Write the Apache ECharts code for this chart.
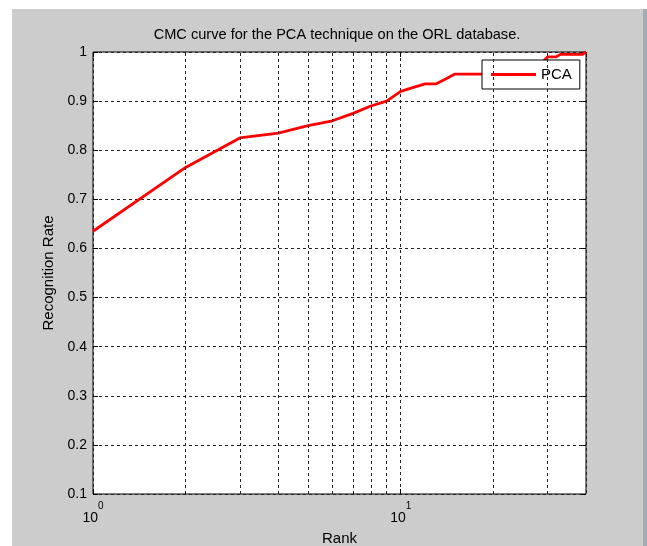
<!DOCTYPE html>
<html>
<head>
<meta charset="utf-8">
<script src="https://cdn.jsdelivr.net/npm/echarts@6/dist/echarts.min.js"></script>
<style>
  body { margin: 0; background: #fff; }
  #frame {
    position: absolute; left: 12px; top: 9px; width: 631px; height: 537px;
    background: #cccccc; border-right: 4px solid #a3abb3;
  }
  #chart { position: absolute; left: 0; top: 0; width: 647px; height: 546px; }
</style>
</head>
<body>
<div id="frame"></div>
<div id="chart"></div>
<script>
// rank 1..40 on a log axis
const ranks = [1, 2, 3, 4, 5, 6, 7, 8, 9, 10,
  11, 12, 13, 14, 15, 16, 17, 18, 19, 20,
  21, 22, 23, 24, 25, 26, 27, 28, 29, 30,
  31, 32, 33, 34, 35, 36, 37, 38, 39, 40];
const pcaRates = [0.635, 0.765, 0.825, 0.835, 0.85, 0.86, 0.875, 0.89, 0.90, 0.92,
  0.928, 0.935, 0.935, 0.945, 0.955, 0.955, 0.955, 0.955, 0.955, 0.96,
  0.96, 0.96, 0.965, 0.965, 0.97, 0.97, 0.975, 0.975, 0.98, 0.99,
  0.99, 0.99, 0.995, 0.995, 0.995, 0.995, 0.995, 0.995, 0.995, 1.0];
// log grid lines between the decades
const minorRanks = [2, 3, 4, 5, 6, 7, 8, 9, 20, 30];
const decadeLabels = { 1: '0', 10: '1' };

const font = "'Liberation Sans', Arial, sans-serif";
const gridLine = { color: '#222', width: 1, type: [3, 3] };

const chart = echarts.init(document.getElementById('chart'));

const option = {
  backgroundColor: 'transparent',
  textStyle: { fontFamily: font },
  title: {
    text: 'CMC curve for the PCA technique on the ORL database.',
    left: 337,
    top: 27,
    padding: 0,
    textAlign: 'center',
    textStyle: { fontFamily: font, fontSize: 14.6, fontWeight: 'normal', color: '#000' }
  },
  legend: {
    data: ['PCA'],
    left: 482,
    top: 60,
    icon: 'rect',
    itemWidth: 45,
    itemHeight: 3,
    padding: [7, 8, 7, 9],
    backgroundColor: '#fff',
    borderColor: '#000',
    borderWidth: 1,
    textStyle: { fontFamily: font, fontSize: 15, color: '#000' }
  },
  grid: {
    left: 93, top: 52, right: 61, bottom: 52,
    outerBoundsMode: 'none',
    show: true, backgroundColor: '#fff', borderColor: '#000', borderWidth: 1
  },
  xAxis: [
    {
      type: 'log', logBase: 10, min: 1, max: 40,
      name: 'Rank', nameLocation: 'middle', nameGap: 37,
      nameTextStyle: { fontFamily: font, fontSize: 15, color: '#000' },
      axisLine: { show: false },
      axisTick: { inside: true, length: 5, lineStyle: { color: '#000' } },
      splitLine: { show: true, lineStyle: gridLine },
      axisLabel: {
        margin: 7,
        showMaxLabel: false,
        formatter: v => decadeLabels[v] !== undefined ? '{b|10}{s|' + decadeLabels[v] + '}' : '',
        rich: {
          b: { fontFamily: font, fontSize: 14, color: '#000', lineHeight: 24, verticalAlign: 'bottom' },
          s: { fontFamily: font, fontSize: 10, color: '#000', lineHeight: 24, verticalAlign: 'top' }
        }
      }
    },
    {
      type: 'log', logBase: 10, min: 1, max: 40, position: 'top',
      axisLine: { show: false },
      axisTick: { inside: true, length: 5, lineStyle: { color: '#000' } },
      axisLabel: { show: false },
      splitLine: { show: false }
    }
  ],
  yAxis: [
    {
      type: 'value', min: 0.1, max: 1, interval: 0.1,
      name: 'Recognition Rate', nameLocation: 'middle', nameGap: 33,
      nameTextStyle: { fontFamily: font, fontSize: 15, color: '#000' },
      axisLine: { show: false },
      axisTick: { inside: true, length: 5, lineStyle: { color: '#000' } },
      splitLine: { show: true, lineStyle: gridLine },
      axisLabel: { margin: 6, fontFamily: font, fontSize: 14, color: '#000' }
    },
    {
      type: 'value', min: 0.1, max: 1, interval: 0.1, position: 'right',
      axisLine: { show: false },
      axisTick: { inside: true, length: 5, lineStyle: { color: '#000' } },
      axisLabel: { show: false },
      splitLine: { show: false }
    }
  ],
  series: [
    {
      name: 'grid',
      type: 'line',
      z: 1,
      data: [],
      silent: true,
      markLine: {
        silent: true,
        symbol: 'none',
        label: { show: false },
        lineStyle: gridLine,
        animation: false,
        data: minorRanks.map(r => ({ xAxis: r }))
      }
    },
    {
      name: 'PCA',
      type: 'line',
      z: 3,
      data: ranks.map((r, i) => [r, pcaRates[i]]),
      symbol: 'none',
      color: '#ff0000',
      lineStyle: { color: '#ff0000', width: 2.8 },
      animation: false
    }
  ]
};

chart.setOption(option);
</script>
</body>
</html>
